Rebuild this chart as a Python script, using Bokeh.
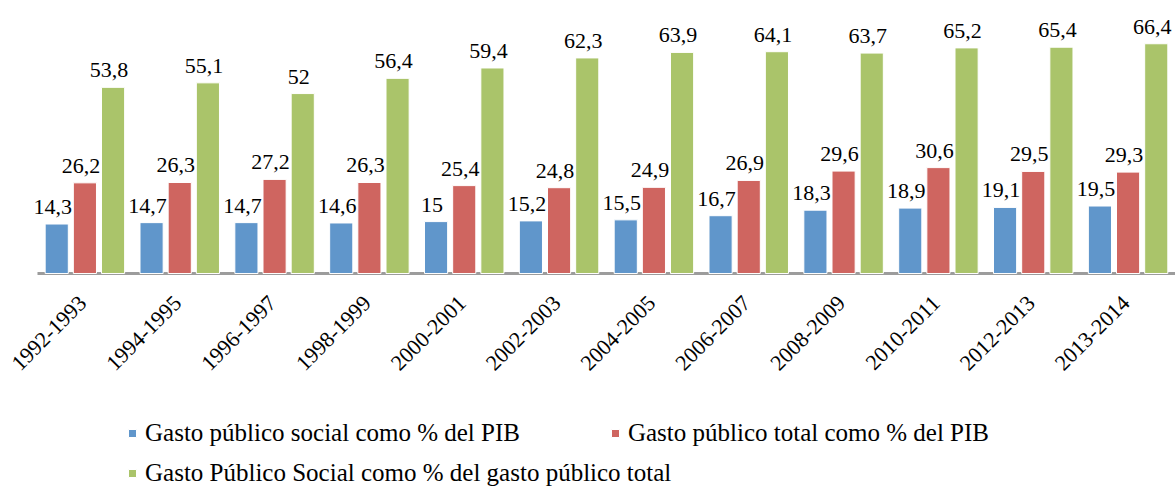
import math
from bokeh.plotting import figure
from bokeh.models import ColumnDataSource, Range1d, Legend, LegendItem
from bokeh.transform import dodge
from bokeh.core.properties import value
from bokeh.embed import file_html
from bokeh.resources import INLINE

periods = ["1992-1993", "1994-1995", "1996-1997", "1998-1999", "2000-2001", "2002-2003",
           "2004-2005", "2006-2007", "2008-2009", "2010-2011", "2012-2013", "2013-2014"]
social_pib = [14.3, 14.7, 14.7, 14.6, 15.0, 15.2, 15.5, 16.7, 18.3, 18.9, 19.1, 19.5]
total_pib = [26.2, 26.3, 27.2, 26.3, 25.4, 24.8, 24.9, 26.9, 29.6, 30.6, 29.5, 29.3]
social_gasto = [53.8, 55.1, 52.0, 56.4, 59.4, 62.3, 63.9, 64.1, 63.7, 65.2, 65.4, 66.4]
series_names = ["Gasto público social como % del PIB",
                "Gasto público total como % del PIB",
                "Gasto Público Social como % del gasto público total"]
colors = ["#6096CB", "#CF6560", "#AAC46A"]


def fmt(v):
    return f"{v:g}".replace(".", ",")


n = len(periods)
src = ColumnDataSource(dict(
    period=periods,
    xc=[i + 0.5 for i in range(n)],          # category centres
    zero=[0] * n,
    s1=social_pib, s2=total_pib, s3=social_gasto,
    l1=[fmt(v) for v in social_pib],
    l2=[fmt(v) for v in total_pib],
    l3=[fmt(v) for v in social_gasto],
))

FONT = "Liberation Serif"

# The frame spans the whole picture so the legend and the rotated category
# labels (drawn relative to y = 0) are not clipped.
p = figure(x_range=Range1d(-0.39, n), y_range=Range1d(-61.85, 78.9),
           width=1175, height=487, output_backend="svg", toolbar_location=None,
           min_border_left=0, min_border_right=0, min_border_top=0, min_border_bottom=0)
p.outline_line_color = None
p.grid.visible = False
p.axis.visible = False

# category axis line
p.segment(x0=[0], x1=[n], y0=[0], y1=[0], line_color="#9C9C9C", line_width=3)

# rotated category labels
p.text(x="xc", y="zero", text="period", source=src, angle=math.pi / 4,
       text_align="right", text_baseline="middle", x_offset=-2, y_offset=26,
       text_font=value(FONT), text_font_size="22px", text_color="#000000")

offsets = [-0.297, 0.0, 0.297]
renderers = []
for i, (key, lab, col) in enumerate(zip(["s1", "s2", "s3"], ["l1", "l2", "l3"], colors)):
    r = p.vbar(x=dodge("xc", offsets[i]), top=key, width=0.244,
               source=src, fill_color=col, line_color="white", line_width=1)
    renderers.append(r)
    p.text(x=dodge("xc", offsets[i]), y=key, text=lab, source=src,
           text_align="center", text_baseline="bottom", x_offset=-4, y_offset=-10,
           text_font=value(FONT), text_font_size="22px", text_color="#000000")

common = dict(glyph_width=10, glyph_height=10, label_standoff=8,
              label_text_font=FONT, label_text_font_size="25px",
              label_text_color="#000000", border_line_color=None,
              background_fill_alpha=0, padding=0, margin=0)

leg1 = Legend(items=[LegendItem(label=series_names[0], renderers=[renderers[0]]),
                     LegendItem(label=series_names[1], renderers=[renderers[1]])],
              orientation="horizontal", spacing=90, location=(127, 40), **common)
leg2 = Legend(items=[LegendItem(label=series_names[2], renderers=[renderers[2]])],
              orientation="horizontal", location=(127, 0), **common)
p.add_layout(leg1)
p.add_layout(leg2)

open("out.html", "w").write(file_html(p, INLINE))
